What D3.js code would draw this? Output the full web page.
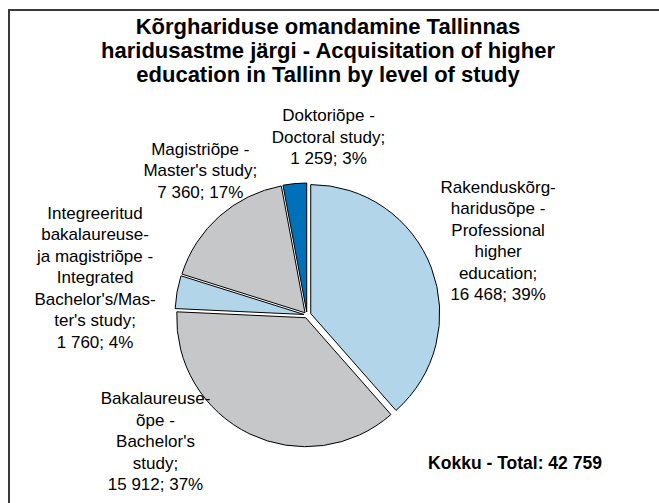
<!DOCTYPE html>
<html>
<head>
<meta charset="utf-8">
<script src="https://cdn.jsdelivr.net/npm/d3@7"></script>
<style>
  body { margin: 0; background: #fff; }
  text { font-family: "Liberation Sans", Arial, Helvetica, sans-serif; }
</style>
</head>
<body>
<script>
// data
var titleLines = ["Kõrghariduse omandamine Tallinnas",
                  "haridusastme järgi - Acquisitation of higher",
                  "education in Tallinn by level of study"];
var names = [
  ["Rakenduskõrg-", "haridusõpe -", "Professional", "higher", "education;"],
  ["Bakalaureuse-", "õpe -", "Bachelor's", "study;"],
  ["Integreeritud", "bakalaureuse-", "ja magistriõpe -", "Integrated", "Bachelor's/Mas-", "ter's study;"],
  ["Magistriõpe -", "Master's study;"],
  ["Doktoriõpe -", "Doctoral study;"]
];
var values = [16468, 15912, 1760, 7360, 1259];
var colors = ["#b3d5ea", "#c6c7c9", "#b3d5ea", "#c6c7c9", "#0071b9"];
var totalLabel = "Kokku - Total: ";

// layout
var W = 659, H = 503;
var cx = 307, cy = 315, r = 129;
var explode = [4, 3, 3, 3, 3];
var labelR = 200;
// hand nudges for label blocks (Excel lets them sit anywhere)
var labelNudge = [[4, -4], [-65, -54], [-15, -3], [26, 5], [40, 21]];

var total = d3.sum(values);
var loc = d3.formatLocale({decimal: ",", thousands: " ", grouping: [3], currency: ["", ""]});
var fmt = loc.format(",d");

var svg = d3.select("body").append("svg").attr("width", W).attr("height", H);

// frame
svg.append("rect").attr("x", 9).attr("y", 10).attr("width", W).attr("height", H)
  .attr("fill", "#fff").attr("stroke", "#3a3a3a").attr("stroke-width", 2);

// title
svg.append("g").selectAll("text").data(titleLines).enter().append("text")
  .attr("x", 328).attr("y", (d, i) => 34 + i * 24)
  .attr("text-anchor", "middle").attr("font-weight", "bold").attr("font-size", "22px")
  .attr("fill", "#000").text(d => d);

var pie = d3.pie().sort(null).value(d => d);
var arcs = pie(values);
var arc = d3.arc().innerRadius(0).outerRadius(r);
var labelArc = d3.arc().innerRadius(labelR).outerRadius(labelR);

var g = svg.append("g").attr("transform", "translate(" + cx + "," + cy + ")");

g.selectAll("path").data(arcs).enter().append("path")
  .attr("d", arc)
  .attr("transform", function(d, i) {
    var a = (d.startAngle + d.endAngle) / 2;
    return "translate(" + (Math.sin(a) * explode[i]) + "," + (-Math.cos(a) * explode[i]) + ")";
  })
  .attr("fill", (d, i) => colors[i])
  .attr("stroke", "#000").attr("stroke-width", 1).attr("stroke-linejoin", "round");

// data labels
var lh = 21.5;
arcs.forEach(function(d, i) {
  var lines = names[i].concat([fmt(d.value) + "; " + Math.round(d.value / total * 100) + "%"]);
  var c = labelArc.centroid(d);
  var x = c[0] + labelNudge[i][0], y = c[1] + labelNudge[i][1];
  var top = y - (lines.length - 1) * lh / 2;
  g.append("g").selectAll("text").data(lines).enter().append("text")
    .attr("x", x).attr("y", (t, j) => top + j * lh)
    .attr("dy", "0.35em")
    .attr("text-anchor", "middle").attr("font-size", "17px").attr("fill", "#000")
    .text(t => t);
});

svg.append("text").attr("x", 515).attr("y", 469).attr("text-anchor", "middle")
  .attr("font-weight", "bold").attr("font-size", "17.5px").attr("fill", "#000")
  .text(totalLabel + fmt(total));
</script>
</body>
</html>
